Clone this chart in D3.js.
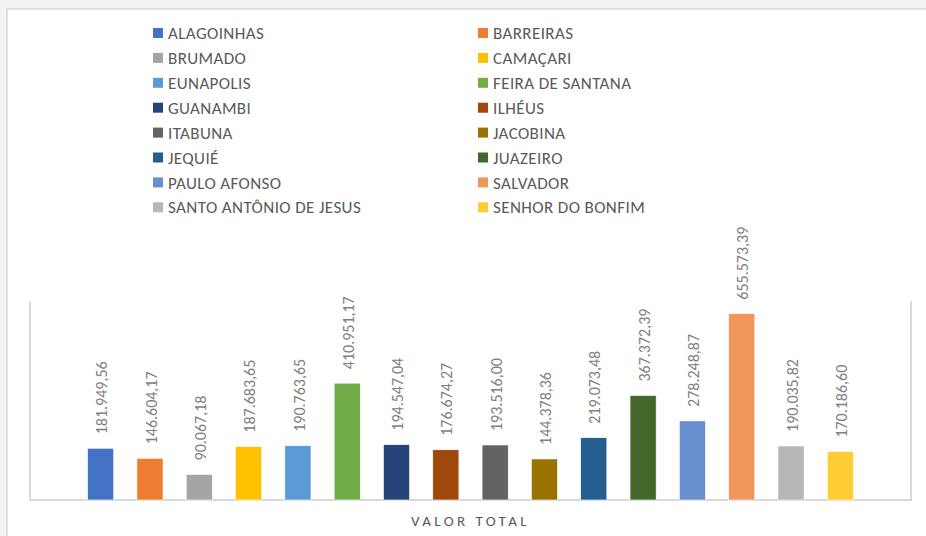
<!DOCTYPE html>
<html lang="pt">
<head>
<meta charset="utf-8">
<title>Valor total por município</title>
<script src="https://d3js.org/d3.v7.min.js"></script>
<style>
  body { margin: 0; background: #f3f3f3; }
  svg { display: block; font-family: Carlito, Calibri, Lato, sans-serif; }
</style>
</head>
<body>
<svg class="chart"></svg>
<script>
// data
var cidades = ["ALAGOINHAS", "BARREIRAS", "BRUMADO", "CAMAÇARI", "EUNAPOLIS",
  "FEIRA DE SANTANA", "GUANAMBI", "ILHÉUS", "ITABUNA", "JACOBINA", "JEQUIÉ",
  "JUAZEIRO", "PAULO AFONSO", "SALVADOR", "SANTO ANTÔNIO DE JESUS", "SENHOR DO BONFIM"];
var valores = [181949.56, 146604.17, 90067.18, 187683.65, 190763.65, 410951.17,
  194547.04, 176674.27, 193516.00, 144378.36, 219073.48, 367372.39,
  278248.87, 655573.39, 190035.82, 170186.60];
var cores = ["#4472C4", "#ED7D31", "#A5A5A5", "#FFC000", "#5B9BD5", "#70AD47",
  "#264478", "#9E480E", "#636363", "#997300", "#255E91", "#43682B",
  "#698ED0", "#F1975A", "#B7B7B7", "#FFCD33"];
var categoria = "VALOR TOTAL";
var yMax = 700000;

var W = 926, H = 536;
var plot = {left: 30, right: 911, top: 301, bottom: 500};

var br = d3.formatLocale({decimal: ",", thousands: ".", grouping: [3], currency: ["R$", ""]});
var fmt = br.format(",.2f");

var svg = d3.select(".chart").attr("width", W).attr("height", H);

// chart frame
svg.append("rect")
  .attr("x", 7).attr("y", 9)
  .attr("width", W + 10).attr("height", H + 10)
  .attr("fill", "#fff")
  .attr("stroke", "#d6d6d6")
  .attr("stroke-width", 1.5);

// legend, two columns
var legend = svg.append("g");
var items = legend.selectAll("g")
  .data(cidades)
  .enter().append("g")
  .attr("transform", function(d, i) {
    var col = i % 2, row = Math.floor(i / 2);
    return "translate(" + (col ? 478 : 153) + "," + (33 + row * 24.9) + ")";
  });
items.append("rect")
  .attr("x", 0).attr("y", -5)
  .attr("width", 10).attr("height", 10)
  .attr("fill", function(d, i) { return cores[i]; });
items.append("text")
  .attr("x", 15).attr("dy", "0.36em")
  .style("font-size", "17px")
  .style("letter-spacing", "0.4px")
  .style("fill", "#595959")
  .text(function(d) { return d; });

// scales
var x = d3.scaleBand()
  .domain(cidades)
  .range([plot.left + 46, plot.right - 46])
  .paddingInner(0.47)
  .paddingOuter(0.235);

var y = d3.scaleLinear()
  .domain([0, yMax])
  .range([plot.bottom, plot.top]);

// plot border (left, bottom, right)
svg.append("path")
  .attr("d", "M" + plot.left + "," + plot.top + "V" + plot.bottom +
             "H" + plot.right + "V" + plot.top)
  .attr("fill", "none")
  .attr("stroke", "#d9d9d9")
  .attr("stroke-width", 2);

// bars
svg.selectAll(".bar")
  .data(valores)
  .enter().append("rect")
  .attr("class", "bar")
  .attr("x", function(d, i) { return x(cidades[i]); })
  .attr("y", function(d) { return y(d); })
  .attr("width", x.bandwidth())
  .attr("height", function(d) { return y(0) - y(d); })
  .attr("fill", function(d, i) { return cores[i]; })
  .attr("stroke", "#fff")
  .attr("stroke-width", 0.6);

// value labels, rotated
svg.selectAll(".label")
  .data(valores)
  .enter().append("text")
  .attr("class", "label")
  .attr("transform", function(d, i) {
    return "translate(" + (x(cidades[i]) + x.bandwidth() / 2 + 1) + "," + (y(d) - 14) + ") rotate(-90)";
  })
  .attr("dy", "0.35em")
  .style("font-size", "16px")
  .style("fill", "#808080")
  .text(function(d) { return fmt(d); });

// category label
svg.append("text")
  .attr("x", (plot.left + plot.right) / 2)
  .attr("y", 521)
  .attr("dy", "0.35em")
  .attr("text-anchor", "middle")
  .style("font-size", "15px")
  .style("letter-spacing", "3.4px")
  .style("fill", "#595959")
  .text(categoria);
</script>
</body>
</html>
